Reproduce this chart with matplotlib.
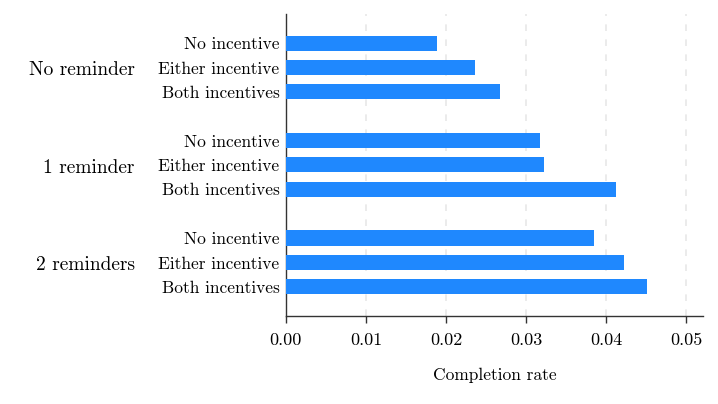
import numpy as np
import matplotlib
matplotlib.use("Agg")
import matplotlib.pyplot as plt
import matplotlib.transforms as mtransforms

plt.rcParams['font.family'] = 'serif'
plt.rcParams['font.serif'] = ['cmr10', 'DejaVu Serif']
plt.rcParams['mathtext.fontset'] = 'cm'
plt.rcParams['axes.formatter.use_mathtext'] = True

# Data
groups = ['No reminder', '1 reminder', '2 reminders']
incentives = ['No incentive', 'Either incentive', 'Both incentives']
no_reminder = [0.0189, 0.0236, 0.0267]
one_reminder = [0.0318, 0.0323, 0.0412]
two_reminders = [0.0385, 0.0422, 0.0451]
xticks = [0.00, 0.01, 0.02, 0.03, 0.04, 0.05]

series = [no_reminder, one_reminder, two_reminders]

fig = plt.figure(figsize=(7.18, 4.04), dpi=100)
ax = fig.add_axes([0.398, 0.218, 0.581, 0.7475])

positions = []
values = []
labels = []
for g, vals in enumerate(series):
    for i, v in enumerate(vals):
        positions.append(g * 4 + i)
        values.append(v)
        labels.append(incentives[i])

ax.barh(positions, values, height=0.62, color='#1f88fe', zorder=3)

ax.set_yticks(positions)
ax.set_yticklabels(labels, fontsize=12.5)
ax.set_ylim(10 + 1.2, -1.2)
ax.tick_params(axis='y', length=0, pad=4.5)

ax.set_xlim(0, 0.0521)
ax.set_xticks(xticks)
ax.set_xticklabels([f'{t:.2f}' for t in xticks], fontsize=13)
ax.tick_params(axis='x', length=5, width=1, color='#333333', pad=7)
ax.set_xlabel('Completion rate', fontsize=12.5, labelpad=14.5)

ax.grid(axis='x', linestyle=(0, (4, 5)), color='#e8e8e8', linewidth=1.2, zorder=0)
ax.grid(axis='y', visible=False)

for side in ['top', 'right']:
    ax.spines[side].set_visible(False)
for side in ['left', 'bottom']:
    ax.spines[side].set_color('#333333')
    ax.spines[side].set_linewidth(1.0)

# group labels to the left of the bar labels
trans = mtransforms.blended_transform_factory(ax.transAxes, ax.transData)
for g, name in enumerate(groups):
    ax.text(-0.362, g * 4 + 1.12, name, transform=trans, ha='right', va='center',
            fontsize=14)

fig.savefig('out.png', dpi=100)
